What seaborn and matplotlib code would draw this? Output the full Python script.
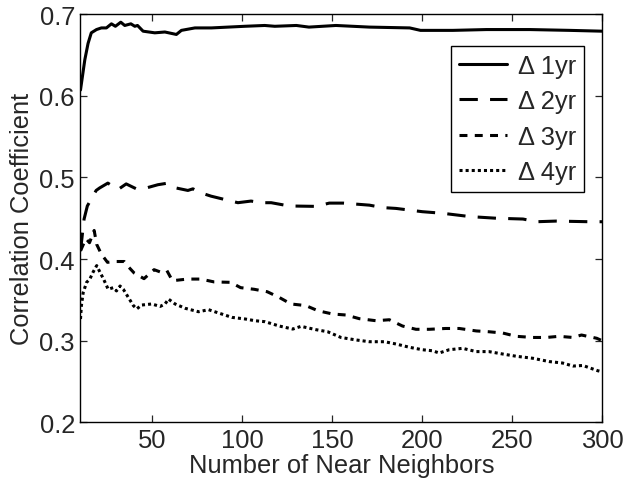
import matplotlib
matplotlib.use("Agg")
import matplotlib.pyplot as plt
import seaborn as sns
import pandas as pd

# Correlation coefficient vs. number of near neighbours, one series per horizon
x_1yr = [10, 12.4, 14.2, 16, 18.9, 21.6, 24.4, 27.2, 29.4, 32.4, 34.6, 38, 40.2, 41.7,
         44.8, 51.3, 56.9, 63.3, 66.1, 73.6, 82.8, 92, 101.3, 112.4, 118, 130, 137, 152,
         170.6, 193, 199, 217, 235.7, 259.8, 282, 300]
y_1yr = [0.607, 0.644, 0.664, 0.677, 0.681, 0.683, 0.683, 0.688, 0.685, 0.690, 0.686,
         0.688, 0.685, 0.686, 0.679, 0.677, 0.678, 0.675, 0.680, 0.683, 0.683, 0.684,
         0.685, 0.686, 0.685, 0.686, 0.684, 0.686, 0.684, 0.683, 0.680, 0.680, 0.681,
         0.681, 0.680, 0.679]

x_2yr = [10, 12, 13.8, 16.9, 18.7, 20.6, 25.2, 30.8, 35.4, 41, 46.5, 53, 58.6, 63.2,
         69.7, 72.5, 77, 82.6, 90, 97.5, 104.8, 110.4, 116, 126, 141, 148.3, 156, 170.6,
         178, 185.4, 200, 211.5, 226.5, 241, 256, 263.5, 274.5, 293, 300]
y_2yr = [0.410, 0.449, 0.465, 0.477, 0.484, 0.487, 0.493, 0.485, 0.492, 0.486, 0.487,
         0.491, 0.493, 0.487, 0.484, 0.486, 0.481, 0.477, 0.473, 0.469, 0.471, 0.469,
         0.469, 0.465, 0.4645, 0.4685, 0.4685, 0.466, 0.463, 0.462, 0.458, 0.456, 0.452,
         0.450, 0.449, 0.4457, 0.4465, 0.4457, 0.4457]

x_3yr = [10, 13, 15, 17.6, 19, 21.6, 25, 28.7, 34.3, 36, 39.8, 45.3, 50.9, 54.6, 58,
         61.1, 69.5, 76.8, 84.3, 93.5, 99, 106.5, 113.8, 120.5, 127, 135.3, 142, 150.2,
         157.6, 165, 174.3, 181.7, 189, 196.5, 203.9, 213, 220.6, 230, 237, 244.8, 252.2,
         261.5, 269, 276, 283.8, 288.5, 297, 300]
y_3yr = [0.410, 0.425, 0.420, 0.435, 0.418, 0.406, 0.396, 0.397, 0.397, 0.392, 0.383,
         0.376, 0.387, 0.384, 0.386, 0.3735, 0.3755, 0.3755, 0.372, 0.3715, 0.365, 0.363,
         0.360, 0.353, 0.345, 0.343, 0.3367, 0.3327, 0.3315, 0.327, 0.3245, 0.3257,
         0.318, 0.314, 0.314, 0.315, 0.315, 0.312, 0.311, 0.3094, 0.3054, 0.304, 0.304,
         0.3054, 0.304, 0.307, 0.303, 0.300]

x_4yr = [10, 10.5, 11.5, 13.4, 15.2, 17, 19, 20.8, 22.7, 25.4, 28.2, 30, 32, 33.8, 36.6,
         39.4, 41.3, 44, 49.6, 54.3, 57, 58.9, 62.6, 68.2, 75.6, 81.2, 86.7, 94.2, 101.6,
         107, 112.6, 120.5, 128, 132.6, 141, 147.4, 154.8, 163, 170.6, 179, 185.4, 192.8,
         200, 205.7, 209.4, 215, 222.4, 230, 237, 244.8, 252.2, 261.5, 270.5, 278, 283.8,
         289.3, 297.5, 300]
y_4yr = [0.3266, 0.343, 0.359, 0.3715, 0.3755, 0.384, 0.392, 0.384, 0.376, 0.363, 0.365,
         0.361, 0.367, 0.363, 0.353, 0.343, 0.339, 0.3437, 0.345, 0.342, 0.345, 0.351,
         0.345, 0.3397, 0.3355, 0.338, 0.334, 0.3286, 0.3266, 0.3245, 0.3233, 0.318,
         0.3143, 0.3176, 0.3135, 0.311, 0.304, 0.301, 0.2988, 0.2988, 0.296, 0.292, 0.289,
         0.2877, 0.285, 0.289, 0.2907, 0.2867, 0.2867, 0.2837, 0.281, 0.2785, 0.2745,
         0.2727, 0.269, 0.2697, 0.2633, 0.262]

series_labels = ["\u0394 1yr", "\u0394 2yr", "\u0394 3yr", "\u0394 4yr"]
x_ticks = [50, 100, 150, 200, 250, 300]
y_ticks = [0.2, 0.3, 0.4, 0.5, 0.6, 0.7]

frames = []
for lab, xs, ys in zip(series_labels, [x_1yr, x_2yr, x_3yr, x_4yr],
                       [y_1yr, y_2yr, y_3yr, y_4yr]):
    frames.append(pd.DataFrame({"neighbors": xs, "corr": ys, "series": lab}))
df = pd.concat(frames, ignore_index=True)

sns.set_style("ticks")
plt.rcParams["font.family"] = ["Liberation Sans", "DejaVu Sans"]
plt.rcParams["font.size"] = 18.4

fig = plt.figure(figsize=(6.24, 4.85), dpi=100)
ax = fig.add_axes([0.129, 0.127, 0.836, 0.842])

dash_map = {
    series_labels[0]: "",
    series_labels[1]: (6, 4),
    series_labels[2]: (2.6, 2.4),
    series_labels[3]: (1, 1),
}
sns.lineplot(data=df, x="neighbors", y="corr", style="series", dashes=dash_map,
             style_order=series_labels, color="black", linewidth=2.2,
             estimator=None, sort=False, legend=False, ax=ax)

ax.set_xlim(10, 300)
ax.set_ylim(0.2, 0.7)
ax.set_xticks(x_ticks)
ax.set_yticks(y_ticks)
ax.set_yticklabels([f"{v:.1f}" for v in y_ticks])
ax.set_xlabel("Number of Near Neighbors", fontsize=18.4, labelpad=1)
ax.set_ylabel("Correlation Coefficient", fontsize=18.4, labelpad=4)
ax.tick_params(direction="in", length=5, width=0.9, top=True, right=True,
               labelsize=18.4, pad=4)
for sp in ax.spines.values():
    sp.set_visible(True)
    sp.set_linewidth(1.0)
    sp.set_color("black")

leg = ax.legend(ax.get_lines()[:4], series_labels, loc="upper right",
                bbox_to_anchor=(0.965, 0.922), borderaxespad=0, fontsize=18.4,
                handlelength=1.9, handletextpad=0.42, labelspacing=0.45,
                borderpad=0.3, fancybox=False, framealpha=1)
leg.get_frame().set_edgecolor("black")
leg.get_frame().set_linewidth(1.0)

fig.savefig("out.png", dpi=100)
